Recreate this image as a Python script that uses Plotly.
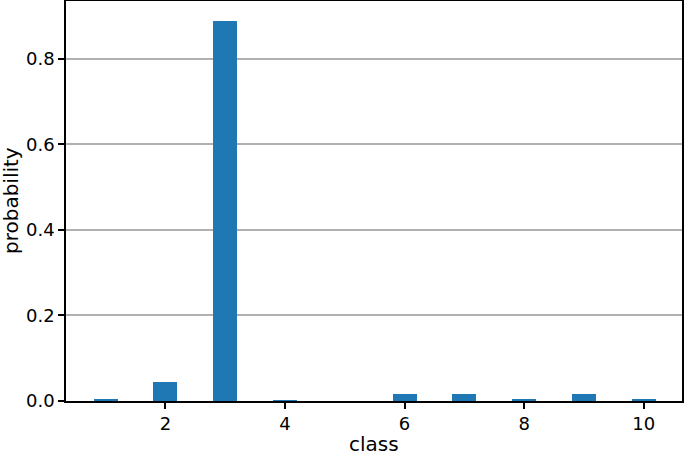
import plotly.graph_objects as go

# class probabilities
classes = [1, 2, 3, 4, 5, 6, 7, 8, 9, 10]
probability = [0.0056, 0.0444, 0.8889, 0.001, 0.0, 0.0167, 0.0167, 0.0056, 0.0167, 0.0056]

x_ticks = [2, 4, 6, 8, 10]
y_ticks = [0.0, 0.2, 0.4, 0.6, 0.8]

fig = go.Figure()
fig.add_trace(go.Bar(x=classes, y=probability, width=0.4,
                     marker=dict(color='#1f77b4', line=dict(width=0))))

font = dict(family='DejaVu Sans', size=18, color='black')
title_font = dict(family='DejaVu Sans', size=20, color='black')

fig.update_layout(
    width=685, height=454,
    margin=dict(l=66, r=3, t=1, b=53),
    plot_bgcolor='white', paper_bgcolor='white',
    font=font,
    showlegend=False,
    bargap=0,
)
fig.update_xaxes(
    range=[0.338, 10.64], tickvals=x_ticks, ticks='outside', ticklen=6, tickwidth=1.5,
    tickcolor='black', showline=True, linecolor='black', linewidth=1.5, mirror=True,
    showgrid=False, zeroline=False, automargin=False,
)
fig.update_yaxes(
    range=[0, 0.935], tickvals=y_ticks, tickformat='.1f', ticks='outside', ticklen=6,
    tickwidth=1.5, tickcolor='black', showline=True, linecolor='black', linewidth=1.5,
    mirror=True, showgrid=True, gridcolor='#b0b0b0', gridwidth=1.5, zeroline=False,
    automargin=False,
)

# axis titles as annotations so they sit where matplotlib put them
fig.add_annotation(text='class', font=title_font, showarrow=False,
                   xref='paper', yref='paper', x=0.5, y=0,
                   xanchor='center', yanchor='middle', yshift=-43, borderpad=0)
fig.add_annotation(text='probability', font=title_font, showarrow=False, textangle=-90,
                   xref='paper', yref='paper', x=0, y=0.5,
                   xanchor='center', yanchor='middle', xshift=-55, borderpad=0)

# drop the default page margin so the figure sits at the window's corner
fig.write_html("out.html", config={'displayModeBar': False},
               post_script="document.body.style.margin='0';")
